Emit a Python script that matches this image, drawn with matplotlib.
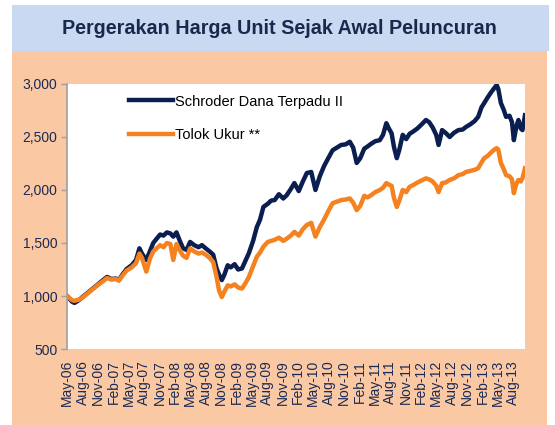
import matplotlib
matplotlib.use("Agg")
import matplotlib.pyplot as plt
import matplotlib.dates as mdates
import matplotlib.ticker as mticker
from matplotlib.patches import Rectangle
import pandas as pd

# data
dates = [
    "2006-05-01", "2006-06-01", "2006-06-15", "2006-07-10", "2006-08-01", "2006-09-01",
    "2006-10-01", "2006-11-01", "2006-12-01", "2006-12-25", "2007-01-20", "2007-02-15",
    "2007-03-05", "2007-03-25", "2007-04-20", "2007-05-20", "2007-06-15", "2007-07-05",
    "2007-07-20", "2007-08-15", "2007-09-05", "2007-09-25", "2007-10-15", "2007-11-05",
    "2007-11-25", "2007-12-15", "2008-01-05", "2008-01-22", "2008-02-10", "2008-03-01",
    "2008-03-20", "2008-04-10", "2008-05-01", "2008-05-25", "2008-06-20", "2008-07-10",
    "2008-08-01", "2008-08-25", "2008-09-15", "2008-10-05", "2008-10-20", "2008-11-05",
    "2008-11-20", "2008-12-10", "2008-12-28", "2009-01-20", "2009-02-10", "2009-03-05",
    "2009-03-25", "2009-04-15", "2009-05-10", "2009-06-01", "2009-06-20", "2009-07-10",
    "2009-08-05", "2009-08-25", "2009-09-15", "2009-10-10", "2009-11-05", "2009-11-25",
    "2009-12-20", "2010-01-10", "2010-02-05", "2010-03-01", "2010-03-25", "2010-04-20",
    "2010-05-15", "2010-06-10", "2010-07-05", "2010-07-30", "2010-08-25", "2010-09-20",
    "2010-10-15", "2010-11-10", "2010-12-05", "2010-12-25", "2011-01-15", "2011-02-05",
    "2011-03-01", "2011-03-20", "2011-04-10", "2011-05-05", "2011-06-01", "2011-06-20",
    "2011-07-10", "2011-07-25", "2011-08-10", "2011-08-25", "2011-09-10", "2011-09-25",
    "2011-10-15", "2011-11-05", "2011-11-25", "2011-12-15", "2012-01-10", "2012-02-05",
    "2012-03-01", "2012-03-20", "2012-04-10", "2012-05-01", "2012-05-15", "2012-06-05",
    "2012-06-25", "2012-07-20", "2012-08-15", "2012-09-10", "2012-10-05", "2012-10-25",
    "2012-11-20", "2012-12-15", "2013-01-05", "2013-01-25", "2013-02-10", "2013-03-01",
    "2013-03-20", "2013-04-10", "2013-04-25", "2013-05-05", "2013-05-20", "2013-06-05",
    "2013-06-20", "2013-07-10", "2013-07-25", "2013-08-05", "2013-08-20", "2013-09-01",
    "2013-09-15", "2013-09-25", "2013-10-10",
]

schroder = [
    1000, 945, 935, 960, 990, 1030,
    1070, 1110, 1150, 1180, 1160, 1165,
    1150, 1200, 1255, 1290, 1340, 1450,
    1400, 1340, 1420, 1500, 1540, 1580,
    1570, 1600, 1590, 1560, 1600, 1520,
    1450, 1435, 1510, 1480, 1460, 1480,
    1450, 1420, 1390, 1260, 1200, 1150,
    1200, 1290, 1270, 1300, 1250, 1260,
    1330, 1405, 1520, 1650, 1720, 1840,
    1870, 1900, 1905, 1960, 1920, 1950,
    2010, 2065, 1990, 2080, 2160, 2170,
    2000, 2130, 2225, 2300, 2375, 2400,
    2425, 2430, 2455, 2400, 2255, 2300,
    2390, 2410, 2435, 2460, 2470, 2520,
    2630, 2580, 2535, 2400, 2300, 2380,
    2520, 2480, 2530, 2550, 2580, 2620,
    2660, 2640, 2590, 2520, 2425, 2565,
    2540, 2500, 2540, 2565, 2570, 2595,
    2620, 2650, 2690, 2780, 2820, 2870,
    2915, 2960, 2990, 2950, 2820, 2760,
    2690, 2700, 2640, 2470, 2600, 2660,
    2580, 2565, 2705,
]

tolok_ukur = [
    1000, 960, 955, 965, 985, 1025,
    1065, 1105, 1140, 1170, 1155, 1160,
    1145, 1190, 1240, 1270, 1310, 1400,
    1360, 1230, 1350, 1420, 1450, 1480,
    1460, 1500, 1490, 1340, 1490, 1430,
    1380, 1360, 1450, 1420, 1400, 1410,
    1390, 1360, 1320, 1180, 1050, 990,
    1040, 1100, 1090, 1110, 1080, 1070,
    1120, 1180, 1280, 1370, 1410, 1465,
    1510, 1520, 1530, 1550, 1520, 1540,
    1570, 1605, 1570, 1630, 1670, 1690,
    1560, 1650, 1720, 1800, 1875, 1890,
    1905, 1910, 1920, 1880, 1810, 1850,
    1945, 1930, 1950, 1980, 2000, 2020,
    2065, 2050, 2040, 1920, 1840, 1900,
    2000, 1980, 2030, 2045, 2070, 2090,
    2110, 2100, 2080, 2040, 1980, 2065,
    2070, 2095, 2110, 2140, 2150, 2170,
    2180, 2190, 2205, 2260, 2300, 2320,
    2350, 2380, 2395, 2380, 2255, 2200,
    2140, 2130, 2100, 1970, 2060, 2095,
    2080, 2110, 2205,
]

series_names = ["Schroder Dana Terpadu II", "Tolok Ukur **"]
title = "Pergerakan Harga Unit Sejak Awal Peluncuran"

navy = "#0B1E50"
orange = "#F58220"
text_navy = "#1B2A55"

plt.rcParams["font.family"] = ["Liberation Sans", "DejaVu Sans"]

x = pd.to_datetime(dates)

fig = plt.figure(figsize=(5.55, 4.25), dpi=100)
fig.patch.set_facecolor("white")

# background panels (kept behind the axes)
fig.add_artist(Rectangle((0.0216, 0.0), 0.9640, 0.880, transform=fig.transFigure,
                         facecolor="#FAC8A2", edgecolor="none", zorder=-10))
fig.add_artist(Rectangle((0.0216, 0.880), 0.9676, 0.108, transform=fig.transFigure,
                         facecolor="#C9D9F1", edgecolor="none", zorder=-10))
fig.text(0.5036, 0.934, title, ha="center", va="center", fontsize=14.2,
         fontweight="bold", color="#17294D")

ax = fig.add_axes([0.1207, 0.1788, 0.8252, 0.6236])
ax.set_facecolor("white")

ax.plot(x, schroder, color=navy, lw=3.2, label=series_names[0], solid_joinstyle="round")
ax.plot(x, tolok_ukur, color=orange, lw=3.2, label=series_names[1], solid_joinstyle="round")

ax.set_ylim(500, 3000)
ax.set_yticks(range(500, 3001, 500))
ax.yaxis.set_major_formatter(mticker.FuncFormatter(lambda v, p: f"{int(v):,}"))
ax.set_xlim(pd.Timestamp("2006-05-01"), pd.Timestamp("2013-10-10"))

ticks = pd.date_range("2006-05-01", "2013-08-01", freq="3MS")
ax.set_xticks(ticks)
ax.xaxis.set_major_formatter(mdates.DateFormatter("%b-%y"))

for s in ["top", "right", "bottom"]:
    ax.spines[s].set_visible(False)
ax.spines["left"].set_color("#A0A0A0")
ax.spines["left"].set_linewidth(1.2)

ax.tick_params(axis="y", direction="out", length=4, width=1, color="#A0A0A0",
               labelsize=10, labelcolor=text_navy, pad=3)
ax.tick_params(axis="x", length=0, labelsize=10, labelcolor=text_navy,
               labelrotation=90, pad=8)

ax.legend(loc="upper left", bbox_to_anchor=(0.135, 0.96), frameon=False,
          fontsize=10.5, handlelength=3.0, handletextpad=0.15, labelspacing=1.35,
          borderpad=0, borderaxespad=0)

fig.savefig("out.png", dpi=100)
